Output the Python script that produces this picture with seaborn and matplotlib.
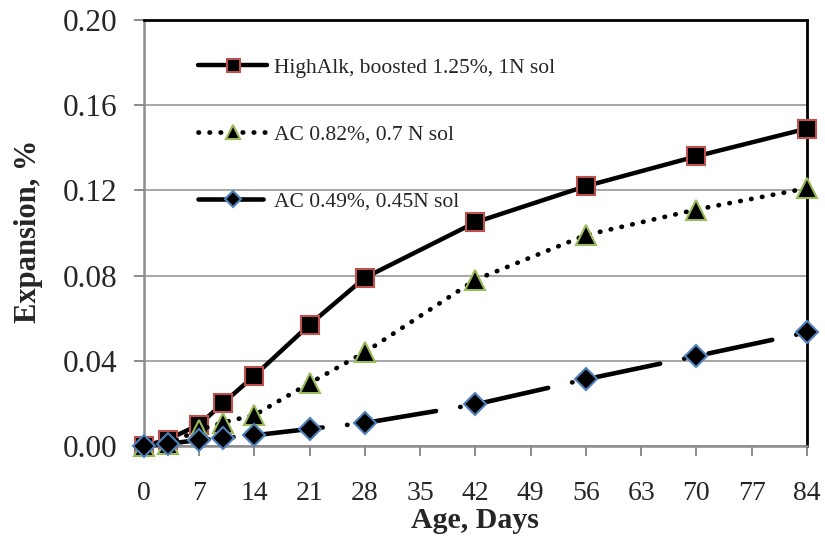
import numpy as np
import pandas as pd
import matplotlib
matplotlib.use("Agg")
import matplotlib.pyplot as plt
import seaborn as sns

# =========================================================
# DATA
# =========================================================

days = [0, 3, 7, 10, 14, 21, 28, 42, 56, 70, 84]

high_alk = [0.000, 0.003, 0.010, 0.020, 0.033, 0.057, 0.079, 0.105, 0.122, 0.136, 0.149]
ac_082 = [0.000, 0.001, 0.0075, 0.011, 0.0145, 0.0295, 0.044, 0.078, 0.099, 0.111, 0.121]
ac_049 = [0.000, 0.001, 0.0028, 0.0037, 0.005, 0.008, 0.0108, 0.0195, 0.0313, 0.0422, 0.0533]

series_labels = [
    "HighAlk, boosted 1.25%, 1N sol",
    "AC 0.82%, 0.7 N sol",
    "AC 0.49%, 0.45N sol",
]

x_ticks = list(range(0, 85, 7))
y_ticks = [0.00, 0.04, 0.08, 0.12, 0.16, 0.20]

# =========================================================
# STYLE
# =========================================================

sns.set_style("white")
plt.rcParams["font.family"] = ["Liberation Serif", "DejaVu Serif"]

fig = plt.figure(figsize=(8.25, 5.36), dpi=100)
ax = fig.add_axes([0.1745, 0.168, 0.8035, 0.7947])

sns.lineplot(x=days, y=high_alk, ax=ax, color="black", linewidth=3.2,
             marker="s", markersize=13, markerfacecolor="black",
             markeredgecolor="#C0504D", markeredgewidth=1.5,
             label=series_labels[0], clip_on=False, zorder=3)

sns.lineplot(x=days, y=ac_082, ax=ax, color="black", linewidth=3.4,
             linestyle=(0, (0.1, 2.24)), dash_capstyle="round",
             marker="^", markersize=14, markerfacecolor="black",
             markeredgecolor="#9BBB59", markeredgewidth=1.5,
             label=series_labels[1], clip_on=False, zorder=4)

sns.lineplot(x=days, y=ac_049, ax=ax, color="black", linewidth=3.3,
             linestyle=(0, (14.2, 5.35, 0.1, 5.35)), dash_capstyle="round",
             marker="D", markersize=11.5, markerfacecolor="black",
             markeredgecolor="#4F81BD", markeredgewidth=1.5,
             label=series_labels[2], clip_on=False, zorder=5)

# =========================================================
# AXES
# =========================================================

ax.set_xlim(0, 84)
ax.set_ylim(0, 0.20)
ax.set_xticks(x_ticks)
ax.set_yticks(y_ticks)
ax.set_yticklabels([f"{v:.2f}" for v in y_ticks])

ax.yaxis.grid(True, color="#A6A6A6", linewidth=1.4)
ax.xaxis.grid(False)
ax.set_axisbelow(True)

for side in ["left", "bottom"]:
    ax.spines[side].set_color("#8C8C8C")
    ax.spines[side].set_linewidth(1.8)
for side in ["top", "right"]:
    ax.spines[side].set_color("black")
    ax.spines[side].set_linewidth(2.0)

ax.tick_params(axis="x", direction="out", length=7, width=1.4, color="#8C8C8C",
               labelsize=20, pad=18.5)
ax.tick_params(axis="y", direction="out", length=7, width=1.4, color="#8C8C8C",
               labelsize=22.5, pad=12)
ax.tick_params(bottom=True, left=True)

ax.set_xlabel("Age, Days", fontsize=21.5, fontweight="bold")
ax.set_ylabel("Expansion, %", fontsize=22, fontweight="bold")
ax.yaxis.set_label_coords(-0.152, 0.505)
ax.xaxis.set_label_coords(0.5, -0.143)

ax.legend(loc="upper left", bbox_to_anchor=(0.069, 0.932), frameon=False,
          fontsize=15.5, handlelength=3.2, handletextpad=0.33,
          labelspacing=2.18, markerscale=0.72, borderaxespad=0)

fig.savefig("out.png", dpi=100)
